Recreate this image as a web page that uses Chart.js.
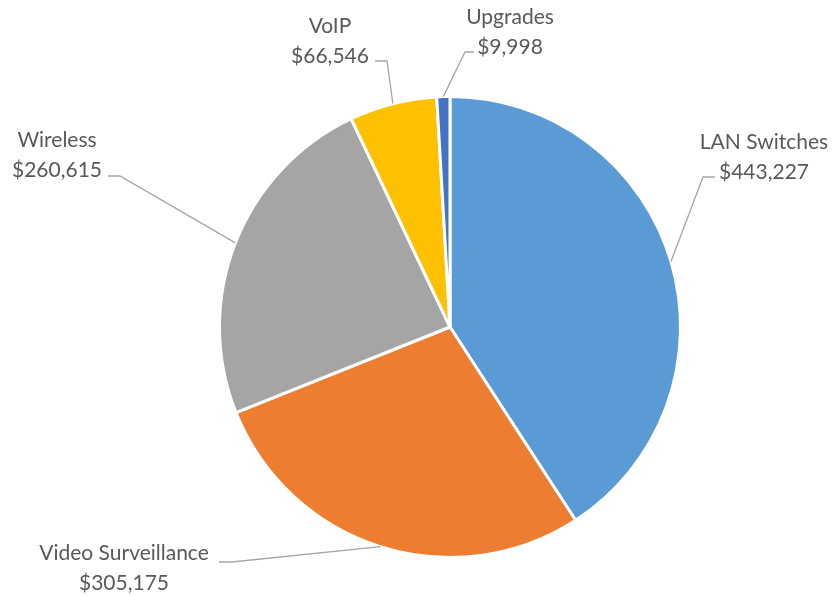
<!DOCTYPE html>
<html>
<head>
<meta charset="utf-8">
<script src="https://cdn.jsdelivr.net/npm/chart.js@4/dist/chart.umd.min.js"></script>
<style>
  html, body { margin: 0; padding: 0; background: #fff; }
  #wrap { width: 834px; height: 596px; position: relative; }
</style>
</head>
<body>
<div id="wrap"><canvas id="c" width="834" height="596"></canvas></div>
<script>
// ---- data ----
const categories = ["LAN Switches", "Video Surveillance", "Wireless", "VoIP", "Upgrades"];
const values = [443227, 305175, 260615, 66546, 9998];
const colors = ["#5B9BD5", "#ED7D31", "#A5A5A5", "#FFC000", "#4472C4"];

// ---- label layout (text centre, leader elbow, leader end) ----
const labelLayout = [
  { tx: 764, ty: 157, elbow: [703, 177], end: [715, 177] },
  { tx: 124, ty: 568, elbow: [232, 562], end: [219, 562] },
  { tx: 57,  ty: 155, elbow: [120, 176], end: [108, 176] },
  { tx: 330, ty: 41,  elbow: [387, 61],  end: [375, 61] },
  { tx: 510, ty: 32,  elbow: [465, 52],  end: [474, 52] }
];

const fmt = v => "$" + v.toLocaleString("en-US");

const labelPlugin = {
  id: "pieLabels",
  afterDatasetsDraw(chart) {
    const ctx = chart.ctx;
    const meta = chart.getDatasetMeta(0);
    ctx.save();
    meta.data.forEach((arc, i) => {
      const p = arc.getProps(["x", "y", "startAngle", "endAngle", "outerRadius"], true);
      const mid = (p.startAngle + p.endAngle) / 2;
      const ex = p.x + Math.cos(mid) * p.outerRadius;
      const ey = p.y + Math.sin(mid) * p.outerRadius;
      const L = labelLayout[i];
      ctx.strokeStyle = "#A6A6A6";
      ctx.lineWidth = 1.3;
      ctx.beginPath();
      ctx.moveTo(ex, ey);
      ctx.lineTo(L.elbow[0], L.elbow[1]);
      ctx.lineTo(L.end[0], L.end[1]);
      ctx.stroke();
      ctx.fillStyle = "#595959";
      ctx.font = "21px Lato, 'Open Sans', sans-serif";
      ctx.textAlign = "center";
      ctx.textBaseline = "middle";
      ctx.fillText(categories[i], L.tx, L.ty - 15);
      ctx.fillText(fmt(values[i]), L.tx, L.ty + 15);
    });
    ctx.restore();
  }
};

new Chart(document.getElementById("c"), {
  type: "pie",
  data: {
    labels: categories,
    datasets: [{
      data: values,
      backgroundColor: colors,
      borderColor: "#FFFFFF",
      borderWidth: 3
    }]
  },
  options: {
    responsive: false,
    animation: false,
    layout: { padding: { top: 95, bottom: 37, left: 218, right: 152 } },
    plugins: {
      legend: { display: false },
      tooltip: { enabled: false }
    }
  },
  plugins: [labelPlugin]
});
</script>
</body>
</html>
